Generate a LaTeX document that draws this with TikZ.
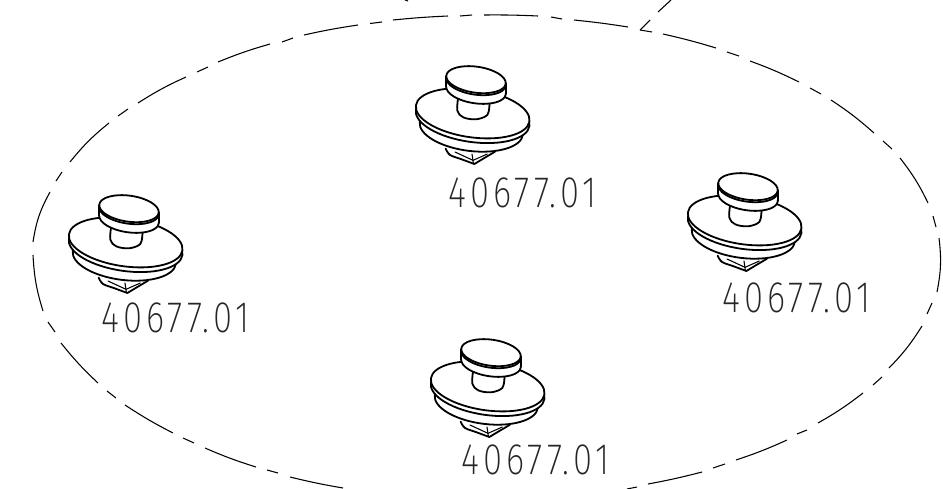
\documentclass[tikz,border=0pt]{standalone}
\usepackage{graphicx}
\usepackage{fontspec}
\newfontfamily\partfont[LetterSpace=12]{Fira Sans ExtraLight}
\newcommand{\partno}{\scalebox{.79}[1]{\partfont\fontsize{33}{33}\selectfont 40677.01}}
\tikzset{
  partlabel/.style={inner sep=0pt,anchor=base west,text=black!85},
  outline/.style={line width=1.35pt,line join=round,line cap=round},
  solidpart/.style={outline,fill=white},
  thinline/.style={line width=.8pt,line join=round,line cap=round},
  region/.style={line width=.8pt,line cap=butt},
  fastener/.pic={
    \begin{scope}[x=.25pt,y=-.25pt,shift={(-225,-342)}]
      % cone below the body
      \draw[outline] plot[smooth,tension=.5] coordinates {(137,296)(150,315)(185,328)(223,342)};
      \draw[outline] (223,342) -- (285,305);
      \draw[thinline] (165,306) -- (219,331);
      \draw[thinline] (216,312) -- (220,340);
      \draw[thinline] (219,331) -- (262,312);
      % lower body, rim, washer
      \draw[solidpart] (214,235) ellipse[x radius=156,y radius=68,rotate=-7];
      \draw[solidpart] (218,204) ellipse[x radius=172,y radius=72,rotate=-8];
      \draw[solidpart] (218,190) ellipse[x radius=172,y radius=72,rotate=-8];
      \draw[outline] (47,178) -- (47,192);
      % neck
      \draw[solidpart] plot[smooth,tension=.6] coordinates {(175,140)(172,182)(190,202)(225,208)(255,200)(266,185)(270,140)};
      % head
      \draw[solidpart] (228,121) ellipse[x radius=90,y radius=39,rotate=-8];
      \fill[white] (138.6,80) -- (138.6,111) -- (317.4,131) -- (317.4,100) -- cycle;
      \draw[outline] (138.6,80) -- (138.6,111) (317.4,100) -- (317.4,131);
      \draw[solidpart] (228,89) ellipse[x radius=90,y radius=39,rotate=-8];
      \begin{scope}[shift={(228,95)},rotate=-8]
        \draw[outline] (-90,0) arc[start angle=180,end angle=0,x radius=90,y radius=39];
      \end{scope}
    \end{scope}
  }
}
\begin{document}
\begin{tikzpicture}[x=.75pt,y=-.75pt]
  \useasboundingbox (0,0) rectangle (943,489);
  % dash-dotted outline, clockwise from the left side
  \draw[region]
    (33,242) to[bend left=10] (50,192)
    (56,181) -- (62,172)
    (70,162) to[bend left=6] (109,123)
    (118,116) -- (128,109)
    (138,103) to[bend left=4] (186,77)
    (197,72) -- (208,67)
    (218,62) to[bend left=3] (270,44)
    (282,42) -- (293,38)
    (304,35) to[bend left=2] (358,25)
    (370,23.5) -- (382,22)
    (393,20) to[bend left=1.5] (448,16)
    (460,16) -- (472,15)
    (484,15) to[bend left=1.5] (538,16)
    (551,17) -- (562,19)
    (574,20) to[bend left=1.5] (628,27)
    (640,30) -- (652,32)
    (663,34) to[bend left=2] (716,48)
    (727,52) -- (739,56)
    (750,61) to[bend left=3] (799,82)
    (810,88) -- (821,94)
    (831,100) to[bend left=4] (874,133)
    (883,141) -- (892,149)
    (900,158) to[bend left=6] (928,203)
    (933,216) -- (936,227)
    (939,238) to[bend left=9] (937,292)
    (932,303) -- (927,314)
    (922,326) to[bend left=6] (889,368)
    (882,377) -- (873,385)
    (863,393) to[bend left=4] (818,423)
    (807,430) -- (797,434)
    (787,440) to[bend left=3] (736,460)
    (725,464) -- (713,468)
    (702,472) to[bend left=2] (648,484)
    (637,487) -- (627,489)
    (343,488) to[bend left=2] (290,477)
    (278,473) -- (267,470)
    (256,467) to[bend left=3] (205,448)
    (194,443) -- (183,438)
    (173,433) to[bend left=3] (125,405)
    (116,398) -- (107,391)
    (98,383) to[bend left=4] (61,343)
    (55,332) -- (48,322)
    (43,311) to[bend left=7] (33,255);
  % second outline running off the top edge
  \draw[region] (640,30) -- (650,20) (658,12) -- (671,0) (405,0) -- (408,1);
  % fasteners
  \pic at (475,164) {fastener};
  \pic at (128,293) {fastener};
  \pic at (747,271) {fastener};
  \pic at (490,437) {fastener};
  % labels
  \node[partlabel] (lblTop) at (448,207) {\partno};
  \node[partlabel] (lblLeft) at (101,332) {\partno};
  \node[partlabel] (lblRight) at (722,312) {\partno};
  \node[partlabel] (lblBottom) at (461,474) {\partno};
\end{tikzpicture}
\end{document}
